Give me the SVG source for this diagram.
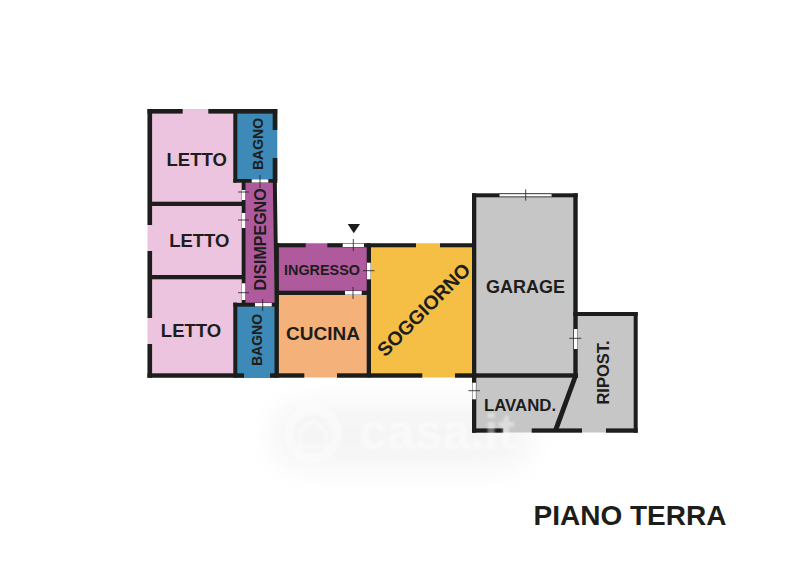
<svg xmlns="http://www.w3.org/2000/svg" width="800" height="566" viewBox="0 0 800 566">
<defs>
<style>
.w{fill:#1d1d1b}
.d{fill:#fff}
.t{stroke:#1d1d1b;stroke-width:.8;fill:none}
text{font-family:"Liberation Sans",Arial,sans-serif;font-weight:700;fill:#1d1d1b;text-anchor:middle}
</style>
<filter id="b" x="-20%" y="-40%" width="140%" height="180%"><feGaussianBlur stdDeviation="14"/></filter>
<filter id="s" x="-20%" y="-20%" width="140%" height="140%"><feGaussianBlur stdDeviation="1.2"/></filter>
</defs>
<rect width="800" height="566" fill="#fff"/>
<g id="watermark-halo"><rect x="272" y="402" width="260" height="68" rx="32" fill="#f5f5f5" filter="url(#b)"/></g>
<g id="rooms">
<path id="letti" d="M147.500 109H241V182H245V302H237V378H147.500Z" fill="#ecc4df"/>
<path id="bagno1" d="M235 113H277.300V181H235Z" fill="#3d8ab8"/>
<path id="bagno2" d="M235 305H276V378H235Z" fill="#3d8ab8"/>
<path id="disimpegno" d="M243 181H274.500V304H243Z" fill="#b05a9e"/>
<path id="ingresso" d="M277 243.300H369V293H277Z" fill="#b05a9e"/>
<path id="cucina" d="M277 293H369V377.500H277Z" fill="#f4b27a"/>
<path id="soggiorno" d="M369 243.300H474V377.500H369Z" fill="#f5bf45"/>
<path id="garage" d="M474 195H575V375H474Z" fill="#c6c6c6"/>
<path id="lavand" d="M474 375H576L557 431H474Z" fill="#c6c6c6"/>
<path id="ripost" d="M576 314H636V432.500H606V428H582V431H556L576 375Z" fill="#c6c6c6"/>
<rect x="503" y="425" width="29" height="7.500" fill="#c6c6c6"/>
<rect x="582" y="425" width="24" height="7.500" fill="#c6c6c6"/>
</g>
<g id="walls">
<rect class="w" x="147.500" y="109" width="4.600" height="116"/>
<rect class="w" x="147.500" y="251" width="4.600" height="67"/>
<rect class="w" x="147.500" y="344" width="4.600" height="33.700"/>
<rect class="w" x="147.500" y="109" width="35.200" height="4.600"/>
<rect class="w" x="208.300" y="109" width="69" height="4.600"/>
<rect class="w" x="233.300" y="109" width="4" height="73.500"/>
<rect class="w" x="272.700" y="109" width="4.600" height="21"/>
<rect class="w" x="272.700" y="158" width="4.600" height="25"/>
<rect class="w" x="233.300" y="179" width="43.500" height="3.700"/>
<rect class="w" x="152" y="201.700" width="90" height="4.300"/>
<rect class="w" x="152" y="275" width="90" height="4.300"/>
<rect class="w" x="241.700" y="179" width="3.800" height="127"/>
<path class="w" d="M272.800 180H276.800L278.500 304H274.800Z"/>
<rect class="w" x="233.300" y="302.700" width="45" height="4"/>
<rect class="w" x="233.300" y="302.700" width="4" height="75"/>
<rect class="w" x="274.500" y="243" width="4.400" height="134.700"/>
<rect class="w" x="147.500" y="373.300" width="96.500" height="4.400"/>
<rect class="w" x="270" y="373.300" width="34.300" height="4.400"/>
<rect class="w" x="337" y="373.300" width="85.300" height="4.400"/>
<rect class="w" x="455" y="373.300" width="123" height="4.400"/>
<rect class="w" x="274.500" y="243.300" width="31.200" height="4"/>
<rect class="w" x="327.300" y="243.300" width="88.700" height="4"/>
<rect class="w" x="440" y="243.300" width="33" height="4"/>
<rect class="w" x="366.700" y="243.300" width="4.300" height="134"/>
<rect class="w" x="275" y="290.700" width="93" height="4.300"/>
<rect class="w" x="472" y="193.300" width="4.300" height="239.400"/>
<rect class="w" x="472" y="193.300" width="105.700" height="4"/>
<rect class="w" x="573.300" y="193.300" width="4.400" height="184.400"/>
<rect class="w" x="573.300" y="312" width="64.400" height="4"/>
<rect class="w" x="633.700" y="312" width="4" height="120.700"/>
<rect class="w" x="472" y="428.400" width="31.300" height="4.300"/>
<rect class="w" x="531.700" y="428.400" width="50.300" height="4.300"/>
<rect class="w" x="606" y="428.400" width="31.700" height="4.300"/>
<path class="w" d="M573 376H578L558.300 430H553Z"/>
</g>
<g id="doors">
<rect class="d" x="251.700" y="179.300" width="16.600" height="3.200"/><path class="t" d="M260 175V188"/>
<rect class="d" x="241.900" y="190" width="3.400" height="10"/><path class="t" d="M238 192H249"/>
<rect class="d" x="241.900" y="213" width="3.400" height="15"/><path class="t" d="M238 220H249"/>
<rect class="d" x="241.900" y="283.300" width="3.400" height="16.700"/><path class="t" d="M238 292.700H249"/>
<rect class="d" x="255" y="303" width="16.700" height="3.400"/><path class="t" d="M262.700 299V311"/>
<rect class="d" x="342.700" y="243.600" width="21.300" height="3.400"/><path class="t" d="M353.300 239V251"/>
<rect class="d" x="367" y="262.700" width="3.700" height="16.600"/><path class="t" d="M363 270.700H374.500"/>
<rect class="d" x="345" y="291" width="16.700" height="3.700"/><path class="t" d="M353 287V299"/>
<rect class="d" x="499.300" y="194" width="52.400" height="2.600" stroke="#1d1d1b" stroke-width=".3"/><path class="t" d="M525.700 189.300V200.700"/>
<rect class="d" x="574" y="329" width="3.400" height="20"/><path class="t" d="M569.300 338.300H581.300"/>
<rect class="d" x="472.400" y="382.700" width="3.500" height="16.600"/><path class="t" d="M468.300 390.700H480"/>
</g>
<path id="entrance" d="M347.700 224H360L353.800 233.300Z" fill="#1d1d1b"/>
<g id="labels">
<text x="196.700" y="165.700" font-size="18.500">LETTO</text>
<text x="199.300" y="247" font-size="18.500">LETTO</text>
<text x="191" y="336.700" font-size="18.500">LETTO</text>
<text transform="translate(262.700 144) rotate(-90)" font-size="14">BAGNO</text>
<text transform="translate(261.700 340) rotate(-90)" font-size="14">BAGNO</text>
<text transform="translate(266 239.500) rotate(-90)" font-size="16">DISIMPEGNO</text>
<text x="322" y="275" font-size="14.400">INGRESSO</text>
<text x="323" y="340" font-size="19">CUCINA</text>
<text transform="translate(428.500 314.500) rotate(-45)" font-size="19.500">SOGGIORNO</text>
<text x="525.500" y="293.300" font-size="18">GARAGE</text>
<text x="520" y="410.700" font-size="16.800">LAVAND.</text>
<text transform="translate(608.700 372.500) rotate(-90)" font-size="16.500">RIPOST.</text>
<text x="630" y="525" font-size="28">PIANO TERRA</text>
</g>
<g id="watermark" opacity=".4" filter="url(#s)">
<circle cx="313" cy="434" r="24" fill="none" stroke="#fff" stroke-width="9"/>
<path d="M300 446V431L313 420L326 431V446Z" fill="none" stroke="#fff" stroke-width="3"/>
<text x="437" y="449" font-size="50" style="fill:#fff">casa.it</text>
</g>
</svg>
